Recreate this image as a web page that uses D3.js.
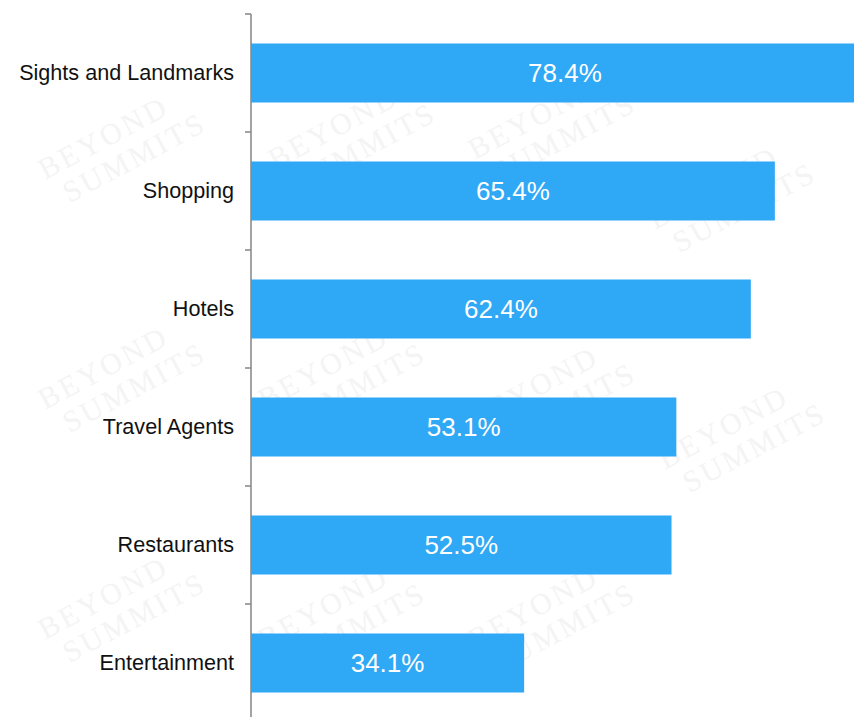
<!DOCTYPE html>
<html>
<head>
<meta charset="utf-8">
<script src="https://cdn.jsdelivr.net/npm/d3@7/dist/d3.min.js"></script>
<style>
  html, body { margin: 0; padding: 0; background: #fff; }
  svg { display: block; }
</style>
</head>
<body>
<svg id="chart" width="854" height="717"></svg>
<script>
// Share of respondents per attraction type
const categories = ["Sights and Landmarks", "Shopping", "Hotels", "Travel Agents", "Restaurants", "Entertainment"];
const values = [78.4, 65.4, 62.4, 53.1, 52.5, 34.1];
const valueLabels = ["78.4%", "65.4%", "62.4%", "53.1%", "52.5%", "34.1%"];

// Background watermark
const watermarkText = ["BEYOND", "SUMMITS"];
const watermarkSpots = [
  [110, 150], [340, 140], [540, 130], [720, 200],
  [110, 380], [330, 380], [540, 400], [730, 440],
  [110, 610], [330, 620], [540, 620]
];

const svg = d3.select("#chart");
const axisX = 251;

// faint rotated watermark text
const wm = svg.append("g").attr("fill", "#f4f4f4")
  .attr("font-family", "Liberation Serif, DejaVu Serif, serif")
  .attr("font-size", 30).attr("letter-spacing", 3);
watermarkSpots.forEach(([cx, cy]) => {
  const g = wm.append("g").attr("transform", `translate(${cx},${cy}) rotate(-28)`);
  g.append("text").attr("text-anchor", "middle").attr("y", -4).text(watermarkText[0]);
  g.append("text").attr("text-anchor", "middle").attr("x", 18).attr("y", 28).text(watermarkText[1]);
});

const y = d3.scaleBand()
  .domain(categories)
  .range([14, 14 + 118 * categories.length])
  .paddingInner(0.5)
  .paddingOuter(0.25);

const x = d3.scaleLinear()
  .domain([0, 100])
  .range([axisX, axisX + 801]);

// bars
svg.append("g").selectAll("rect")
  .data(values)
  .join("rect")
  .attr("x", x(0))
  .attr("y", (d, i) => y(categories[i]))
  .attr("width", d => x(d) - x(0))
  .attr("height", y.bandwidth())
  .attr("fill", "#2fa8f5");

// value labels centred in each bar
svg.append("g").selectAll("text")
  .data(values)
  .join("text")
  .attr("x", d => (x(0) + x(d)) / 2)
  .attr("y", (d, i) => y(categories[i]) + y.bandwidth() / 2)
  .attr("dy", "0.36em")
  .attr("text-anchor", "middle")
  .attr("fill", "#ffffff")
  .attr("font-family", "Liberation Sans, Arial, sans-serif")
  .attr("font-size", 26)
  .text((d, i) => valueLabels[i]);

// category axis: labels via d3.axisLeft, ticks at band boundaries
const axis = svg.append("g")
  .attr("transform", `translate(${axisX},0)`)
  .call(d3.axisLeft(y).tickSize(0).tickPadding(17));
axis.select(".domain").remove();
axis.selectAll("text")
  .attr("fill", "#111")
  .attr("font-family", "Liberation Sans, Arial, sans-serif")
  .attr("font-size", 21.6);

const boundaries = d3.range(categories.length + 1).map(i => y.range()[0] + i * y.step());
const axisColor = "#8c8c8c";
svg.append("line")
  .attr("x1", axisX).attr("x2", axisX)
  .attr("y1", boundaries[0]).attr("y2", boundaries[boundaries.length - 1])
  .attr("stroke", axisColor).attr("stroke-width", 1.6);
svg.append("g").selectAll("line")
  .data(boundaries)
  .join("line")
  .attr("x1", axisX - 6).attr("x2", axisX)
  .attr("y1", d => d).attr("y2", d => d)
  .attr("stroke", axisColor).attr("stroke-width", 1.6);
</script>
</body>
</html>
